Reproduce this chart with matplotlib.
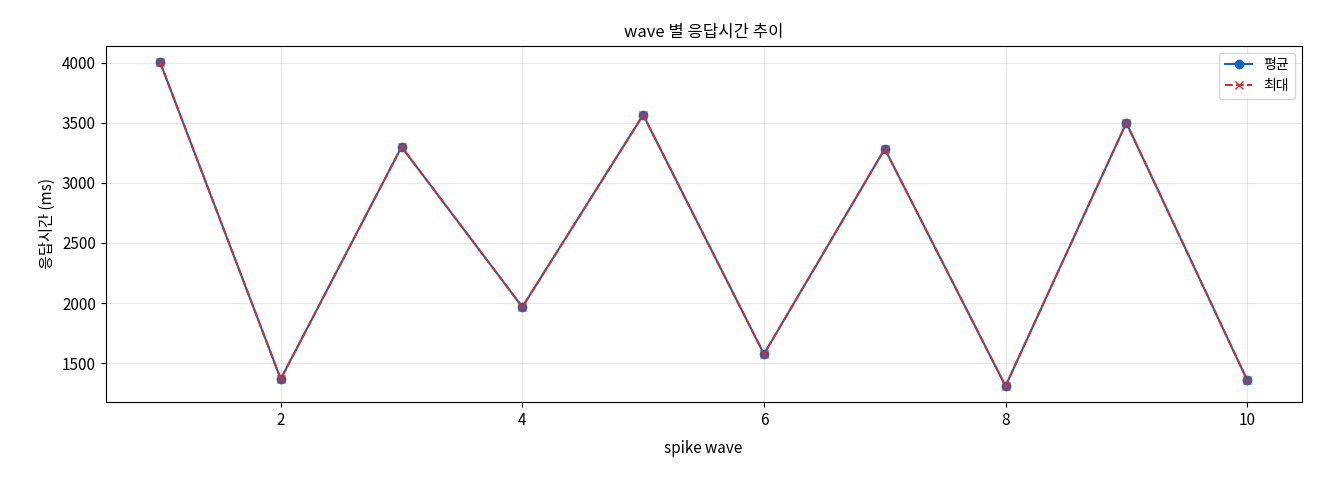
import matplotlib
matplotlib.use("Agg")
import matplotlib.pyplot as plt

plt.rcParams['font.family'] = ['Noto Sans CJK KR', 'DejaVu Sans']
plt.rcParams['axes.unicode_minus'] = False
plt.rcParams['font.size'] = 11

waves = [1, 2, 3, 4, 5, 6, 7, 8, 9, 10]
avg_ms = [4008, 1367, 3300, 1967, 3566, 1575, 3283, 1309, 3500, 1359]
max_ms = [4008, 1367, 3300, 1967, 3566, 1575, 3283, 1309, 3500, 1359]

fig, ax = plt.subplots(figsize=(13.2, 4.8), dpi=100)
ax.plot(waves, avg_ms, marker='o', color='#1565c0', label='평균', linewidth=1.5, markersize=6)
ax.plot(waves, max_ms, marker='x', linestyle='--', color='#d32f2f', label='최대', linewidth=1.5, markersize=6)
ax.set_title('wave 별 응답시간 추이', fontsize=12)
ax.set_xlabel('spike wave', fontsize=11, labelpad=8)
ax.set_ylabel('응답시간 (ms)', fontsize=11)
ax.grid(True, alpha=0.3)
ax.legend(loc='upper right', fontsize=10)
fig.subplots_adjust(left=0.08, right=0.986, top=0.905, bottom=0.162)
fig.savefig('out.png')
